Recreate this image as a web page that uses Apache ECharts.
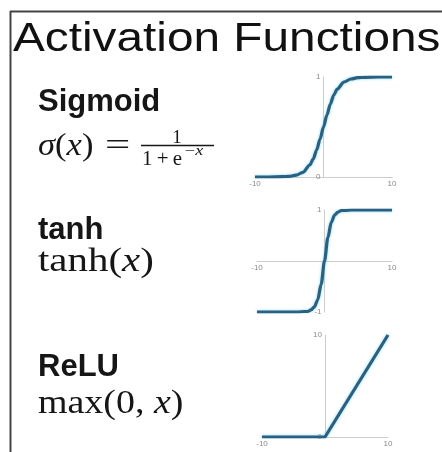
<!DOCTYPE html>
<html>
<head>
<meta charset="utf-8">
<script src="https://cdn.jsdelivr.net/npm/echarts@6.0.0/dist/echarts.min.js"></script>
<style>
  html, body { margin: 0; padding: 0; background: #fff; }
  #chart { width: 442px; height: 452px; }
</style>
</head>
<body>
<div id="chart"></div>
<script>
// values
const sigmoidX = [-10, -8, -6, -5, -4, -3, -2, -1.5, -1, -0.5, 0, 0.5, 1, 1.5, 2, 3, 4, 5, 6, 8, 10];
const sigmoidY = [0, 0, 0.003, 0.007, 0.018, 0.047, 0.12, 0.18, 0.27, 0.38, 0.5, 0.62, 0.73, 0.82, 0.88, 0.95, 0.98, 0.993, 0.997, 1, 1];
const tanhX = [-10, -6, -4, -3, -2.5, -2, -1.5, -1, -0.5, 0, 0.5, 1, 1.5, 2, 2.5, 3, 4, 6, 10];
const tanhY = [-1, -1, -1, -0.99, -0.99, -0.96, -0.9, -0.76, -0.46, 0, 0.46, 0.76, 0.9, 0.96, 0.99, 0.99, 1, 1, 1];
const reluX = [-10, 0, 10];
const reluY = [0, 0, 10];
const xTicks = [-10, 10];
const sigmoidTicks = [0, 1];
const tanhTicks = [-1, 1];
const reluTicks = [0, 10];

const lineColor = "#2b6081";
const axisColor = "#cccccc";
const labelColor = "#8a8a8a";

function pairs(xs, ys) {
  return xs.map((x, i) => [x, ys[i]]);
}

// offset moves the axis from the grid edge onto the zero line
function xAxisFor(gridIndex, offset) {
  return {
    type: "value",
    gridIndex: gridIndex,
    min: -10,
    max: 10,
    offset: offset,
    axisLine: { onZero: false, lineStyle: { color: axisColor, width: 1 } },
    axisTick: { show: false },
    splitLine: { show: false },
    axisLabel: { customValues: xTicks, fontSize: 8, color: labelColor, margin: 3 }
  };
}

function yAxisFor(gridIndex, min, max, ticks, offset) {
  return {
    type: "value",
    gridIndex: gridIndex,
    min: min,
    max: max,
    offset: offset,
    axisLine: { show: true, onZero: false, lineStyle: { color: axisColor, width: 1 } },
    axisTick: { show: false },
    splitLine: { show: false },
    axisLabel: { customValues: ticks, fontSize: 8, color: labelColor, margin: 3 }
  };
}

function curve(idx, data, smooth) {
  return {
    type: "line",
    xAxisIndex: idx,
    yAxisIndex: idx,
    data: data,
    smooth: smooth,
    smoothMonotone: "x",
    showSymbol: false,
    silent: true,
    lineStyle: {
      color: lineColor,
      width: 3.2,
      shadowColor: "rgba(120, 215, 245, 0.9)",
      shadowBlur: 3
    }
  };
}

const serif = "'Liberation Serif', 'Times New Roman', serif";
const sans = "'Liberation Sans', Arial, sans-serif";
const ink = "#161616";

var myChart = echarts.init(document.getElementById("chart"));
var option = {
  animation: false,
  backgroundColor: "#fff",
  grid: [
    { left: 255, top: 77, width: 137, height: 100 },
    { left: 257, top: 210, width: 135, height: 102 },
    { left: 262, top: 335, width: 126, height: 102 }
  ],
  xAxis: [xAxisFor(0, 0), xAxisFor(1, -51), xAxisFor(2, 0)],
  yAxis: [
    yAxisFor(0, 0, 1, sigmoidTicks, -68.5),
    yAxisFor(1, -1, 1, tanhTicks, -67.5),
    yAxisFor(2, 0, 10, reluTicks, -63)
  ],
  series: [
    curve(0, pairs(sigmoidX, sigmoidY), 0.3),
    curve(1, pairs(tanhX, tanhY), 0.3),
    curve(2, pairs(reluX, reluY), false)
  ],
  graphic: [
    // frame
    { type: "line", shape: { x1: 10, y1: 11.5, x2: 442, y2: 11.5 }, style: { stroke: "#444", lineWidth: 2 } },
    { type: "line", shape: { x1: 10.5, y1: 11, x2: 10.5, y2: 452 }, style: { stroke: "#444", lineWidth: 2 } },
    // title
    {
      type: "text", x: 13, y: 40, scaleX: 1.165,
      style: { text: "Activation Functions", font: "41px " + sans, fill: "#111", verticalAlign: "middle" }
    },
    // headings
    { type: "text", x: 38, y: 102, style: { text: "Sigmoid", font: "bold 31px " + sans, fill: ink, verticalAlign: "middle" } },
    { type: "text", x: 38, y: 230, style: { text: "tanh", font: "bold 31px " + sans, fill: ink, verticalAlign: "middle" } },
    { type: "text", x: 38, y: 367, style: { text: "ReLU", font: "bold 31px " + sans, fill: ink, verticalAlign: "middle" } },
    // sigmoid formula
    {
      type: "text", x: 38, y: 147, scaleX: 1.08,
      style: {
        text: "{i|σ}{r|(}{i|x}{r|)}",
        verticalAlign: "middle",
        rich: {
          r: { font: "32px " + serif, fill: ink },
          i: { font: "italic 32px " + serif, fill: ink }
        }
      }
    },
    { type: "text", x: 105, y: 147, scaleX: 1.4, style: { text: "=", font: "32px " + serif, fill: ink, verticalAlign: "middle" } },
    { type: "text", x: 177, y: 138, style: { text: "1", font: "19px " + serif, fill: ink, align: "center", verticalAlign: "middle" } },
    { type: "line", shape: { x1: 141, y1: 145.5, x2: 214, y2: 145.5 }, style: { stroke: ink, lineWidth: 1.3 } },
    { type: "text", x: 142, y: 160, scaleX: 1.05, style: { text: "1\u2009+\u2009e", font: "20px " + serif, fill: ink, verticalAlign: "middle" } },
    {
      type: "text", x: 185, y: 151, scaleX: 1.3,
      style: {
        text: "{r|−}{i|x}",
        verticalAlign: "middle",
        rich: {
          r: { font: "14px " + serif, fill: ink },
          i: { font: "italic 14px " + serif, fill: ink }
        }
      }
    },
    // tanh formula
    {
      type: "text", x: 38, y: 262, scaleX: 1.24,
      style: {
        text: "{r|tanh(}{i|x}{r|)}",
        verticalAlign: "middle",
        rich: {
          r: { font: "33px " + serif, fill: ink },
          i: { font: "italic 33px " + serif, fill: ink }
        }
      }
    },
    // relu formula
    {
      type: "text", x: 38, y: 404, scaleX: 1.15,
      style: {
        text: "{r|max(0, }{i|x}{r|)}",
        verticalAlign: "middle",
        rich: {
          r: { font: "33px " + serif, fill: ink },
          i: { font: "italic 33px " + serif, fill: ink }
        }
      }
    }
  ]
};
myChart.setOption(option);
</script>
</body>
</html>
